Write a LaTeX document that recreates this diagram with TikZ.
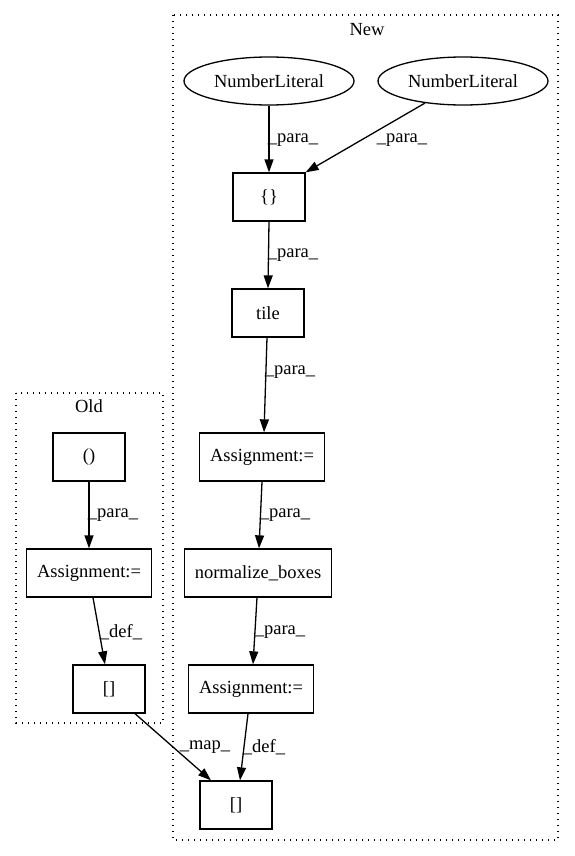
\documentclass[tikz,border=0pt]{standalone}
\usepackage{fontspec}
\setmainfont{Liberation Serif}
\usetikzlibrary{arrows.meta,shapes.geometric}
\begin{document}
\begin{tikzpicture}[x=1pt,y=-1pt,
  every node/.style={font=\fontsize{18.5}{22}\selectfont},
  box/.style={draw,line width=1.3pt,rectangle,minimum height=48pt,inner sep=0pt},
  ell/.style={draw,line width=1.3pt,ellipse,minimum width=170pt,minimum height=48pt,inner sep=0pt},
  cluster/.style={draw,line width=1.3pt,dash pattern=on 1.4pt off 4.6pt},
  edge/.style={draw,line width=1.3pt,-{Triangle[length=13pt,width=9pt]}},
  lbl/.style={inner sep=0pt}]
\useasboundingbox (0,0) rectangle (575,856);
% clusters
\draw[cluster] (173,15) rectangle (558,840);
\node[lbl] (newlbl) at (367,30) {New};
\draw[cluster] (16,393) rectangle (163,723);
\node[lbl] (oldlbl) at (89,406) {Old};
% New nodes
\node[ell] (nl1) at (269,81) {NumberLiteral};
\node[ell] (nl2) at (463,81) {NumberLiteral};
\node[box,minimum width=72pt] (lb) at (269,197) {\{\}};
\node[box,minimum width=72pt] (tile) at (268,313) {tile};
\node[box,minimum width=125pt] (a1) at (262,457) {Assignment:=};
\node[box,minimum width=147pt] (nb) at (258,573) {normalize\_boxes};
\node[box,minimum width=125pt] (a2) at (251,689) {Assignment:=};
\node[box,minimum width=72pt] (nbr) at (236,805) {[]};
% Old nodes
\node[box,minimum width=72pt] (op) at (89,457) {()};
\node[box,minimum width=125pt] (oa) at (89,573) {Assignment:=};
\node[box,minimum width=72pt] (ob) at (109,689) {[]};
% edges
\draw[edge] (nl1.south) -- (lb.north);
\node[lbl] (e1) at (293,140) {\_para\_};
\draw[edge] (nl2) -- (lb.north east);
\node[lbl] (e2) at (402,140) {\_para\_};
\draw[edge] (lb.south) -- (tile.north);
\node[lbl] (e3) at (293,255) {\_para\_};
\draw[edge] ([xshift=-1pt]tile.south) -- ([xshift=2pt]a1.north);
\node[lbl] (e4) at (290,372) {\_para\_};
\draw[edge] (a1.south) -- ([xshift=1pt]nb.north);
\node[lbl] (e5) at (285,515) {\_para\_};
\draw[edge] ([xshift=-1pt]nb.south) -- ([xshift=2pt]a2.north);
\node[lbl] (e6) at (280,632) {\_para\_};
\draw[edge] ([xshift=-3pt]a2.south) -- ([xshift=4pt]nbr.north);
\node[lbl] (e7) at (264,747) {\_def\_};
\draw[edge] (op.south) -- (oa.north);
\node[lbl] (e8) at (113,515) {\_para\_};
\draw[edge] ([xshift=4pt]oa.south) -- ([xshift=-4pt]ob.north);
\node[lbl] (e9) at (121,632) {\_def\_};
\draw[edge] ([xshift=26pt]ob.south) -- ([xshift=-25pt]nbr.north);
\node[lbl] (e10) at (205,747) {\_map\_};
\end{tikzpicture}
\end{document}
